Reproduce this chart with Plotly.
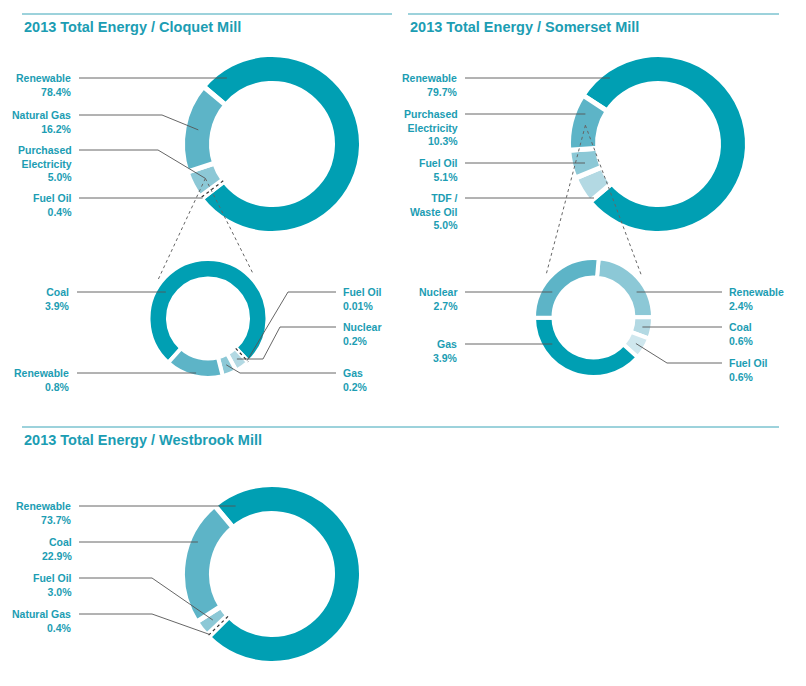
import math
import plotly.graph_objects as go

# page is 806x686, the html body adds an 8px margin round the figure
PAGE_W, PAGE_H, OFF = 806, 686, 8
W, H = PAGE_W - 2 * OFF, PAGE_H - 2 * OFF

# ---------------- data ----------------
titles = ["2013 Total Energy / Cloquet Mill",
          "2013 Total Energy / Somerset Mill",
          "2013 Total Energy / Westbrook Mill"]

cloquet_labels = ["Renewable", "Fuel Oil", "Purchased Electricity", "Natural Gas"]
cloquet_values = [78.4, 0.4, 5.0, 16.2]

# breakdown of Cloquet purchased electricity
cloquet_pe_labels = ["Coal", "Fuel Oil", "Nuclear", "Gas", "Renewable"]
cloquet_pe_values = [3.9, 0.01, 0.2, 0.2, 0.8]

somerset_labels = ["Renewable", "TDF / Waste Oil", "Fuel Oil", "Purchased Electricity"]
somerset_values = [79.7, 5.0, 5.1, 10.3]

# breakdown of Somerset purchased electricity
somerset_pe_labels = ["Renewable", "Coal", "Fuel Oil", "Gas", "Nuclear"]
somerset_pe_values = [2.4, 0.6, 0.6, 3.9, 2.7]

westbrook_labels = ["Renewable", "Natural Gas", "Fuel Oil", "Coal"]
westbrook_values = [73.7, 0.4, 3.0, 22.9]

label_text = {"Purchased Electricity": "Purchased<br>Electricity",
              "TDF / Waste Oil": "TDF /<br>Waste Oil"}

# ---------------- style ----------------
C1, C2, C3, C4, C5 = "#009fb3", "#5db4c7", "#8cc8d6", "#b3d9e3", "#cfe7ee"
TEXT = "#1c9db3"
LEAD = "#555555"
FONT = "Liberation Sans"

fig = go.Figure()


def polar(cx, cy, rad, ang):
    a = math.radians(ang)
    return cx + rad * math.sin(a), cy - rad * math.cos(a)


def mids(values, rotation):
    tot = sum(values)
    out, start = [], rotation
    for v in values:
        span = v / tot * 360
        out.append(start + span / 2)
        start += span
    return out


def donut(labels, values, s):
    lw = s["lw"]
    r = s["R"] + lw / 2
    hole = (s["Ri"] - lw / 2) / r
    cx, cy = s["cx"], s["cy"]
    fig.add_trace(go.Pie(
        labels=labels, values=values, sort=False, direction="clockwise",
        rotation=s["rot"], hole=hole, textinfo="none",
        hoverinfo="label+value", showlegend=False,
        marker=dict(colors=s["colors"], line=dict(color="white", width=lw)),
        domain=dict(x=[(cx - r - OFF) / W, (cx + r - OFF) / W],
                    y=[1 - (cy + r - OFF) / H, 1 - (cy - r - OFF) / H]),
    ))
    tot = sum(values)
    ang = mids(values, s["rot"])
    rm = (s["R"] + s["Ri"]) / 2
    for i, (lab, v) in enumerate(zip(labels, values)):
        tiny = v / tot < 0.01
        if tiny:
            # slice too thin to see: mark it with a dotted cut across the ring
            x0, y0 = polar(cx, cy, s["Ri"] * 0.97, ang[i])
            x1, y1 = polar(cx, cy, s["R"] * 1.03, ang[i])
            fig.add_shape(type="line", x0=x0, y0=y0, x1=x1, y1=y1,
                          xref="x", yref="y",
                          line=dict(color="#333", width=1.2, dash="dot"))
        a = s["target"].get(i, ang[i])
        tx, ty = polar(cx, cy, s["R"] if tiny else rm, a)
        side = s["side"][i]
        ly = s["ys"][i]
        if side == "L":
            xt = s["text_l"]
            xs = xt + 5
        else:
            xt = s["text_r"]
            xs = xt - 5
        el = s["elbow"][i]
        if el is None:
            pts = [(xs, ly), (tx, ly)]
        elif isinstance(el, tuple):
            pts = [(xs, ly), (el[0], ly), (el[1], ty), (tx, ty)]
        else:
            pts = [(xs, ly), (el, ly), (tx, ty)]
        path = "M " + " L ".join(f"{px:.1f},{py:.1f}" for px, py in pts)
        fig.add_shape(type="path", path=path, xref="x", yref="y",
                      line=dict(color=LEAD, width=0.9))
        txt = f"{label_text.get(lab, lab)}<br>{v}%"
        fig.add_annotation(
            x=xt, y=ly - 8, xref="x", yref="y", text=txt, showarrow=False,
            xanchor="right" if side == "L" else "left", yanchor="top",
            align="right" if side == "L" else "left",
            font=dict(family=FONT, size=10.5, color=TEXT, weight="bold"))
    return ang


def connector(main_vals, main_s, idx, sub_s, spread):
    ang = mids(main_vals, main_s["rot"])[idx]
    ax, ay = polar(main_s["cx"], main_s["cy"],
                   (main_s["R"] + main_s["Ri"]) / 2, ang)
    for a in spread:
        bx, by = polar(sub_s["cx"], sub_s["cy"], sub_s["R"] * 1.1, a)
        fig.add_shape(type="line", x0=ax, y0=ay, x1=bx, y1=by,
                      xref="x", yref="y",
                      line=dict(color="#666", width=1, dash="dot"))


cloq = dict(cx=272, cy=144, R=87, Ri=63, lw=5, rot=-50,
            colors=[C1, C1, C3, C2], side=["L"] * 4, text_l=74, text_r=None,
            ys=[78, 198, 150, 115], elbow=[None, None, 158, 162],
            target={0: 323})
cloq_pe = dict(cx=208, cy=318.5, R=57.5, Ri=42, lw=4, rot=-138,
               colors=[C1, C1, C4, C3, C2], side=["L", "R", "R", "R", "L"],
               text_l=72, text_r=341, ys=[292, 292, 327, 373, 373],
               elbow=[None, 288, (280, 263), 240, None], target={0: 302})
some = dict(cx=658, cy=144, R=87, Ri=63, lw=5, rot=-57,
            colors=[C1, C4, C3, C2], side=["L"] * 4, text_l=460, text_r=None,
            ys=[78, 198, 163, 114], elbow=[None] * 4, target={0: 320})
some_pe = dict(cx=593.5, cy=317.5, R=57.5, Ri=42, lw=4, rot=5,
               colors=[C3, C4, C5, C1, C2], side=["R", "R", "R", "L", "L"],
               text_l=460, text_r=727, ys=[292, 327, 363, 344, 292],
               elbow=[None, None, 667, None, None],
               target={0: 60, 3: 236, 4: 304})
west = dict(cx=272, cy=574, R=87, Ri=63, lw=5, rot=-40,
            colors=[C1, C3, C3, C2], side=["L"] * 4, text_l=74, text_r=None,
            ys=[506, 614, 578, 542], elbow=[None, 152, 152, None],
            target={0: 331})

donut(cloquet_labels, cloquet_values, cloq)
donut(cloquet_pe_labels, cloquet_pe_values, cloq_pe)
donut(somerset_labels, somerset_values, some)
donut(somerset_pe_labels, somerset_pe_values, some_pe)
donut(westbrook_labels, westbrook_values, west)

connector(cloquet_values, cloq, 2, cloq_pe, (308, 46))
connector(somerset_values, some, 3, some_pe, (311, 50))

# section rules + titles
for (x0, x1, y), (tx, ty), t in zip(
        [(22, 392, 14), (408, 779, 14), (22, 779, 427)],
        [(22, 27), (408, 27), (22, 440)], titles):
    fig.add_shape(type="line", x0=x0, x1=x1, y0=y, y1=y, xref="x", yref="y",
                  line=dict(color="#3aa5b8", width=1))
    fig.add_annotation(x=tx, y=ty, xref="x", yref="y", text=t, showarrow=False,
                       xanchor="left", yanchor="middle",
                       font=dict(family=FONT, size=14.5, color=TEXT, weight="bold"))

# axes in page pixels so shapes and labels line up with the pies
fig.update_xaxes(range=[OFF, OFF + W], visible=False, fixedrange=True)
fig.update_yaxes(range=[OFF + H, OFF], visible=False, fixedrange=True)
fig.update_layout(width=W, height=H, margin=dict(l=0, r=0, t=0, b=0),
                  paper_bgcolor="white", plot_bgcolor="white",
                  showlegend=False)

fig.write_html("out.html")
